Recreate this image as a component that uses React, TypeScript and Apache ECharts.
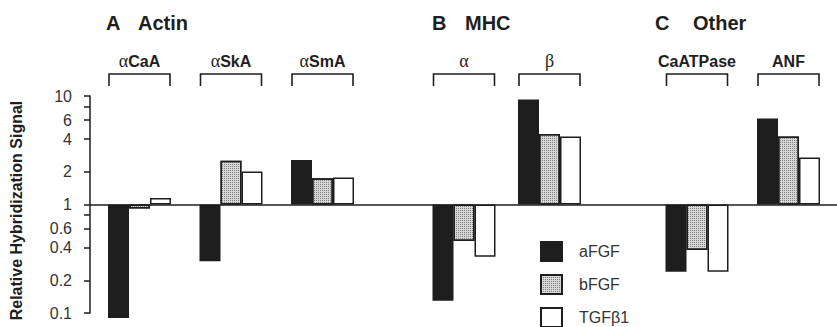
import React, { useEffect, useRef } from 'react';
import * as echarts from 'echarts';

// ---- data ----
const panelTitles = [
  ['A', 'Actin'],
  ['B', 'MHC'],
  ['C', 'Other'],
];
const categories = ['αCaA', 'αSkA', 'αSmA', 'α', 'β', 'CaATPase', 'ANF'];
const panelOf = [0, 0, 0, 1, 1, 2, 2];
const seriesNames = ['aFGF', 'bFGF', 'TGFβ1'];
const aFGF = [0.09, 0.3, 2.57, 0.13, 9.3, 0.24, 6.2];
const bFGF = [0.92, 2.53, 1.75, 0.46, 4.47, 0.38, 4.24];
const TGFb1 = [1.15, 2.01, 1.77, 0.33, 4.24, 0.24, 2.71];
const yTickValues = [0.1, 0.2, 0.4, 0.6, 0.8, 1, 2, 4, 6, 8, 10];
const yLabelValues = [0.1, 0.2, 0.4, 0.6, 1, 2, 4, 6, 10];
const yAxisName = 'Relative Hybridization Signal';

// ---- layout / style ----
const FONT = '"Liberation Sans", Arial, Helvetica, sans-serif';
const INK = '#1e1e1e';
const GRID_TOP = 96;
const GRID_BOTTOM = 14;
const panelGrids = [
  { left: 93.75, right: 468.75 },
  { left: 421.25, right: 244.75 },
  { left: 651.25, right: 2.75 },
];
const titleX = [
  [106, 138],
  [432, 465],
  [655, 693],
];
const seriesStyles = [
  { color: INK, borderColor: INK, borderWidth: 1.5 },
  {
    color: '#d6d6d6',
    borderColor: INK,
    borderWidth: 1.5,
    decal: {
      symbol: 'rect',
      symbolSize: 1,
      dashArrayX: [1, 1],
      dashArrayY: [1, 1],
      color: 'rgba(60,60,60,0.55)',
      rotation: 0,
    },
  },
  { color: '#ffffff', borderColor: INK, borderWidth: 1.5 },
];

export default function App() {
  const ref = useRef<HTMLDivElement>(null);

  useEffect(() => {
    document.body.style.margin = '0';
    if (!ref.current) return;
    const chart = echarts.init(ref.current, undefined, { renderer: 'svg' });
    const values = [aFGF, bFGF, TGFb1];

    const grids: any[] = [
      { left: 88, right: 0, top: GRID_TOP, bottom: GRID_BOTTOM },
      ...panelGrids.map((g) => ({ left: g.left, right: g.right, top: GRID_TOP, bottom: GRID_BOTTOM })),
    ];

    const xAxes: any[] = [
      { type: 'value', gridIndex: 0, min: 0, max: 1, show: false },
      ...panelGrids.map((_, p) => ({
        type: 'category',
        gridIndex: p + 1,
        data: categories.filter((_, i) => panelOf[i] === p),
        show: false,
      })),
    ];

    const yAxes: any[] = [
      {
        type: 'log',
        logBase: 10,
        gridIndex: 0,
        min: 0.1,
        max: 10,
        name: yAxisName,
        nameLocation: 'middle',
        nameRotate: 90,
        nameGap: 66,
        nameTextStyle: {
          fontFamily: FONT,
          fontWeight: 'bold',
          fontSize: 16,
          color: INK,
          padding: [0, 12, 0, 0],
        },
        axisLine: { show: true, lineStyle: { color: INK, width: 1.5 } },
        axisTick: { show: true, length: 6, customValues: yTickValues, lineStyle: { color: INK, width: 1.5 } },
        axisLabel: {
          customValues: yLabelValues,
          formatter: (v: number) => String(+Number(v).toPrecision(2)),
          fontFamily: FONT,
          fontSize: 16,
          margin: 18,
          color: '#333',
        },
        splitLine: { show: false },
        minorTick: { show: false },
      },
      ...panelGrids.map((_, p) => ({
        type: 'log',
        logBase: 10,
        gridIndex: p + 1,
        min: 0.1,
        max: 10,
        show: false,
        splitLine: { show: false },
      })),
    ];

    const series: any[] = [
      {
        type: 'line',
        xAxisIndex: 0,
        yAxisIndex: 0,
        data: [],
        silent: true,
        markLine: {
          silent: true,
          symbol: 'none',
          label: { show: false },
          lineStyle: { color: INK, width: 1.5, type: 'solid' },
          data: [{ yAxis: 1 }],
        },
      },
    ];

    panelGrids.forEach((_, p) => {
      const idx = categories.map((_, i) => i).filter((i) => panelOf[i] === p);
      seriesNames.forEach((name, s) => {
        series.push({
          type: 'bar',
          name,
          xAxisIndex: p + 1,
          yAxisIndex: p + 1,
          barWidth: 21,
          barGap: '0%',
          clip: false,
          itemStyle: seriesStyles[s],
          emphasis: { disabled: true },
          data: idx.map((i) => values[s][i]),
        });
      });
      series.push({
        type: 'custom',
        xAxisIndex: p + 1,
        yAxisIndex: p + 1,
        silent: true,
        data: idx.map((_, k) => [k, 1]),
        renderItem: (params: any, api: any) => {
          const k = api.value(0);
          const [cx, top] = api.coord([k, 10]);
          const half = 30.5;
          const label = categories[idx[k]].replace(/[αβ]/g, (m) => `{g|${m}}`);
          return {
            type: 'group',
            children: [
              {
                type: 'polyline',
                shape: {
                  points: [
                    [cx - half, top - 10],
                    [cx - half, top - 22],
                    [cx + half, top - 22],
                    [cx + half, top - 10],
                  ],
                },
                style: { stroke: INK, lineWidth: 1.6, fill: 'none' },
              },
              {
                type: 'text',
                x: cx,
                y: top - 35,
                style: {
                  text: label,
                  align: 'center',
                  verticalAlign: 'middle',
                  fontFamily: FONT,
                  fontWeight: 'bold',
                  fontSize: 16,
                  fill: INK,
                  rich: {
                    g: { fontFamily: '"Liberation Serif", "DejaVu Serif", serif', fontWeight: 'normal', fontSize: 18, fill: INK },
                  },
                },
              },
            ],
          };
        },
      });
    });

    const graphics: any[] = [];
    panelTitles.forEach((t, p) => {
      t.forEach((txt, j) => {
        graphics.push({
          type: 'text',
          x: titleX[p][j],
          y: 23,
          style: {
            text: txt,
            fontFamily: FONT,
            fontWeight: 'bold',
            fontSize: 20,
            fill: INK,
            verticalAlign: 'middle',
          },
        });
      });
    });

    chart.setOption({
      animation: false,
      backgroundColor: '#ffffff',
      grid: grids,
      xAxis: xAxes,
      yAxis: yAxes,
      legend: {
        data: seriesNames,
        orient: 'vertical',
        left: 540,
        top: 241,
        width: 120,
        height: 110,
        padding: 0,
        itemWidth: 21,
        itemHeight: 19,
        itemGap: 12,
        icon: 'rect',
        selectedMode: false,
        textStyle: { fontFamily: FONT, fontSize: 16, color: '#333', padding: [0, 0, 0, 12] },
      },
      graphic: graphics,
      series,
    });

    return () => chart.dispose();
  }, []);

  return <div ref={ref} style={{ width: 837, height: 327 }} />;
}
